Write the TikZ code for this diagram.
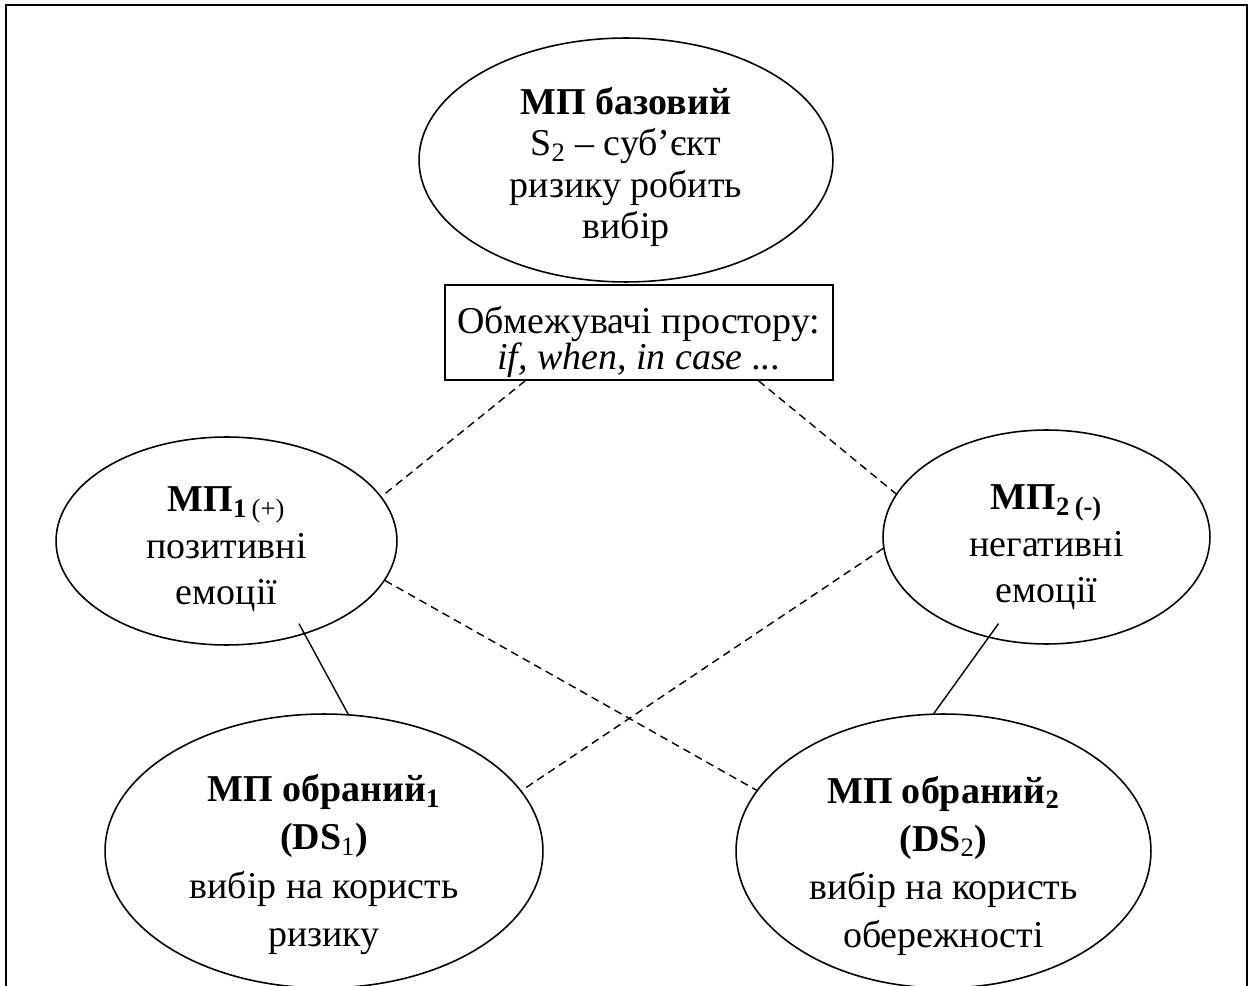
\documentclass[tikz,border=0pt]{standalone}
\usepackage{fontspec}
\setmainfont{Liberation Serif}
\usetikzlibrary{shapes.geometric}
\begin{document}
\begin{tikzpicture}[x=0.02cm,y=-0.02cm,
  oval/.style={ellipse, draw, line width=0.9pt, inner sep=0pt},
  limbox/.style={draw, line width=0.9pt, inner sep=0pt},
  label/.style={inner sep=0pt, align=center},
  linkdash/.style={line width=0.8pt, dash pattern=on 4.5pt off 3pt},
  link/.style={line width=0.8pt}]
\useasboundingbox (0,0) rectangle (1252,986);
% outer frame, open at the bottom edge of the page
\draw[line width=1.6pt] (6,995) -- (6,5) -- (1247,5) -- (1247,995);

% base mental space
\node[oval, minimum width=8.28cm, minimum height=4.88cm] (base) at (626,160) {};
\node[label, font=\fontsize{21.6}{23.7}\selectfont, yshift=-0.14cm] (base-t) at (base)
  {\textbf{МП базовий}\\S\textsubscript{2} – суб’єкт\\ризику робить\\вибір};

% space builders
\node[limbox, minimum width=7.76cm, minimum height=1.9cm] (lim) at (639,332.5) {};
\node[label, font=\fontsize{21.6}{20.5}\selectfont, yshift=-0.18cm] (lim-t) at (lim)
  {Обмежувачі простору:\\\textit{if, when, in case ...}};

% emotional spaces
\node[oval, minimum width=6.82cm, minimum height=4.16cm] (mp1) at (226.5,541) {};
\node[label, font=\fontsize{21.6}{26.4}\selectfont, yshift=-0.17cm] (mp1-t) at (mp1)
  {\textbf{МП\textsubscript{1}}\textsubscript{\,(+)}\\позитивні\\емоції};
\node[oval, minimum width=6.54cm, minimum height=4.28cm] (mp2) at (1046.5,537) {};
\node[label, font=\fontsize{21.6}{26.4}\selectfont, yshift=-0.21cm] (mp2-t) at (mp2)
  {\textbf{МП\textsubscript{2}\textsubscript{\,(-)}}\\негативні\\емоції};

% chosen spaces
\node[oval, minimum width=8.76cm, minimum height=5.48cm] (ds1) at (324,851) {};
\node[label, font=\fontsize{21.6}{27.4}\selectfont, yshift=-0.27cm] (ds1-t) at (ds1)
  {\textbf{МП обраний\textsubscript{1}}\\\textbf{(DS}\textsubscript{1}\textbf{)}\\вибір на користь\\ризику};
\node[oval, minimum width=8.30cm, minimum height=5.48cm] (ds2) at (943.5,851) {};
\node[label, font=\fontsize{21.6}{27.4}\selectfont, yshift=-0.30cm] (ds2-t) at (ds2)
  {\textbf{МП обраний\textsubscript{2}}\\\textbf{(DS}\textsubscript{2}\textbf{)}\\вибір на користь\\обережності};

% connectors
\draw[linkdash] (lim.203.5) -- (mp1.16.4);
\draw[linkdash] (lim.338.6) -- (mp2.164);
\draw[linkdash] (mp1.346.8) -- (ds2.162.5);
\draw[linkdash] (mp2.184.5) -- (ds1.17.6);
\draw[link, shorten <=-0.24cm] (mp1.310.5) -- (ds1.80.4);
\draw[link, shorten <=-0.35cm] (mp2.240.9) -- (ds2.94.9);
\end{tikzpicture}
\end{document}
